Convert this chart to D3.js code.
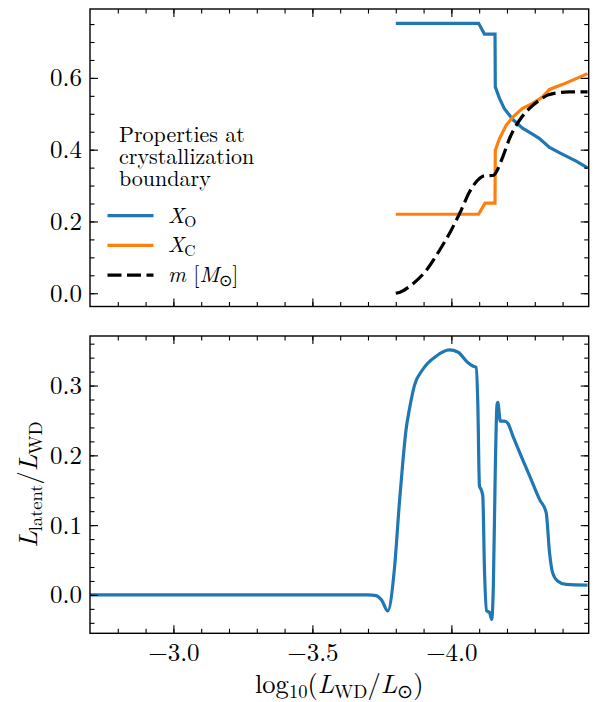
<!DOCTYPE html>
<html>
<head>
<meta charset="utf-8">
<script src="https://cdn.jsdelivr.net/npm/d3@7"></script>
<style>
  body { margin: 0; background: #fff; }
  svg text { font-family: "Latin Modern Roman", "Liberation Serif", serif; fill: #000; }
</style>
</head>
<body>
<svg id="chart" width="596" height="702"></svg>
<script>
// log10(L_WD / L_sun) values and series
const xoLum = [-3.800, -4.098, -4.119, -4.157, -4.158, -4.172, -4.190, -4.221, -4.256, -4.299, -4.317, -4.353, -4.395, -4.449, -4.490];
const xoVal = [0.752, 0.752, 0.722, 0.722, 0.575, 0.545, 0.515, 0.484, 0.460, 0.440, 0.431, 0.406, 0.389, 0.368, 0.349];

const xcLum = [-3.800, -4.098, -4.121, -4.157, -4.158, -4.173, -4.197, -4.221, -4.256, -4.292, -4.328, -4.353, -4.401, -4.449, -4.490];
const xcVal = [0.220, 0.220, 0.251, 0.251, 0.398, 0.431, 0.468, 0.491, 0.515, 0.529, 0.547, 0.568, 0.582, 0.598, 0.612];

const mLum = [-3.800, -3.815, -3.861, -3.909, -3.957, -3.999, -4.035, -4.065, -4.095, -4.119, -4.149, -4.185, -4.209, -4.245, -4.281, -4.317, -4.346, -4.377, -4.424, -4.490];
const mVal = [0.000, 0.003, 0.026, 0.063, 0.119, 0.175, 0.231, 0.282, 0.315, 0.327, 0.328, 0.380, 0.431, 0.482, 0.515, 0.538, 0.552, 0.558, 0.561, 0.561];

const latLum = [-2.70, -3.00, -3.50, -3.700, -3.729, -3.750, -3.771, -3.795, -3.813, -3.825, -3.837, -3.849, -3.867, -3.897, -3.945, -3.993, -4.023, -4.059, -4.077, -4.089, -4.095, -4.101, -4.107, -4.113, -4.119, -4.127, -4.137, -4.145, -4.151, -4.158, -4.164, -4.167, -4.176, -4.191, -4.203, -4.221, -4.251, -4.281, -4.317, -4.341, -4.353, -4.364, -4.382, -4.413, -4.490];
const latVal = [0.000, 0.000, 0.000, 0.000, -0.001, -0.008, -0.023, 0.037, 0.132, 0.189, 0.237, 0.266, 0.300, 0.323, 0.342, 0.351, 0.348, 0.333, 0.328, 0.326, 0.276, 0.156, 0.151, 0.142, 0.037, -0.023, -0.025, -0.035, 0.013, 0.180, 0.272, 0.276, 0.249, 0.249, 0.246, 0.228, 0.199, 0.171, 0.137, 0.118, 0.061, 0.032, 0.020, 0.015, 0.014];

const xMajor = [-3.0, -3.5, -4.0];
const topMajor = [0.0, 0.2, 0.4, 0.6];
const botMajor = [0.0, 0.1, 0.2, 0.3];

const legendTitle = ["Properties at", "crystallization", "boundary"];

const svg = d3.select("#chart");
const left = 90, right = 588.7;
const topPanel = { y0: 9, y1: 306.5 };
const botPanel = { y0: 336, y1: 633.3 };
const serif = "'Latin Modern Roman', 'Liberation Serif', serif";
const lw = 3.2;
const dash = "14,5.5";

const x = d3.scaleLinear().domain([-2.7, -4.494]).range([left, right]);
const yTop = d3.scaleLinear().domain([-0.037, 0.792]).range([topPanel.y1, topPanel.y0]);
const yBot = d3.scaleLinear().domain([-0.055, 0.371]).range([botPanel.y1, botPanel.y0]);

const fmtX = d => "\u2212" + d3.format(".1f")(-d);
const fmtY = d3.format(".1f");

function range(a, b, step) {
  const out = [];
  for (let i = 0; a + i * step <= b + 1e-9; i++) out.push(+(a + i * step).toFixed(4));
  return out;
}
const xMinor = range(-4.4, -2.8, 0.1);
const topMinor = range(0, 0.79, 0.05);
const botMinor = range(-0.04, 0.37, 0.02);

function drawAxes(p, y, yMajor, yMinor, showXLabels) {
  const g = svg.append("g");
  const h = p.y1 - p.y0, w = right - left;
  // bottom
  g.append("g").attr("transform", `translate(0,${p.y1})`)
    .call(d3.axisBottom(x).tickValues(xMinor).tickSize(-4.5).tickFormat(""));
  g.append("g").attr("transform", `translate(0,${p.y1})`)
    .call(d3.axisBottom(x).tickValues(xMajor).tickSize(-8).tickPadding(10)
      .tickFormat(showXLabels ? fmtX : ""));
  // top
  g.append("g").attr("transform", `translate(0,${p.y0})`)
    .call(d3.axisTop(x).tickValues(xMinor).tickSize(-4.5).tickFormat(""));
  g.append("g").attr("transform", `translate(0,${p.y0})`)
    .call(d3.axisTop(x).tickValues(xMajor).tickSize(-8).tickFormat(""));
  // left
  g.append("g").attr("transform", `translate(${left},0)`)
    .call(d3.axisLeft(y).tickValues(yMinor).tickSize(-4.5).tickFormat(""));
  g.append("g").attr("transform", `translate(${left},0)`)
    .call(d3.axisLeft(y).tickValues(yMajor).tickSize(-8).tickPadding(8).tickFormat(fmtY));
  // right
  g.append("g").attr("transform", `translate(${right},0)`)
    .call(d3.axisRight(y).tickValues(yMinor).tickSize(-4.5).tickFormat(""));
  g.append("g").attr("transform", `translate(${right},0)`)
    .call(d3.axisRight(y).tickValues(yMajor).tickSize(-8).tickFormat(""));

  g.selectAll(".domain").remove();
  g.selectAll("g").attr("font-family", null);
  g.selectAll(".tick line").attr("stroke", "#000").attr("stroke-width", 1.1);
  g.selectAll(".tick text").attr("font-size", 25).style("font-family", serif);

  g.append("rect").attr("x", left).attr("y", p.y0).attr("width", w).attr("height", h)
    .attr("fill", "none").attr("stroke", "#000").attr("stroke-width", 1.4);
}

// clip regions for the two panels
svg.append("clipPath").attr("id", "clipTop").append("rect")
  .attr("x", left).attr("y", topPanel.y0).attr("width", right - left).attr("height", topPanel.y1 - topPanel.y0);
svg.append("clipPath").attr("id", "clipBot").append("rect")
  .attr("x", left).attr("y", botPanel.y0).attr("width", right - left).attr("height", botPanel.y1 - botPanel.y0);

const lineTop = d3.line().x(d => x(d[0])).y(d => yTop(d[1]));
const lineTopSmooth = d3.line().x(d => x(d[0])).y(d => yTop(d[1])).curve(d3.curveMonotoneX);
const lineBot = d3.line().x(d => x(d[0])).y(d => yBot(d[1])).curve(d3.curveMonotoneX);

const gTop = svg.append("g").attr("clip-path", "url(#clipTop)");
gTop.append("path").attr("d", lineTop(d3.zip(xoLum, xoVal)))
  .attr("fill", "none").attr("stroke", "#1f77b4").attr("stroke-width", lw);
gTop.append("path").attr("d", lineTop(d3.zip(xcLum, xcVal)))
  .attr("fill", "none").attr("stroke", "#ff7f0e").attr("stroke-width", lw);
gTop.append("path").attr("d", lineTopSmooth(d3.zip(mLum, mVal)))
  .attr("fill", "none").attr("stroke", "#000").attr("stroke-width", lw)
  .attr("stroke-dasharray", dash);

const gBot = svg.append("g").attr("clip-path", "url(#clipBot)");
gBot.append("path").attr("d", lineBot(d3.zip(latLum, latVal)))
  .attr("fill", "none").attr("stroke", "#1f77b4").attr("stroke-width", lw)
  .attr("stroke-linejoin", "round");

drawAxes(topPanel, yTop, topMajor, topMinor, false);
drawAxes(botPanel, yBot, botMajor, botMinor, true);

// legend
const leg = svg.append("g").attr("font-size", 22);
legendTitle.forEach((t, i) => {
  leg.append("text").attr("x", 119).attr("y", 142 + i * 22).text(t);
});
const entries = [
  { color: "#1f77b4", dash: null, sym: "X", sub: "O" },
  { color: "#ff7f0e", dash: null, sym: "X", sub: "C" },
  { color: "#000", dash: dash, sym: "m", sub: null }
];
entries.forEach((e, i) => {
  const yy = 215.7 + i * 29.7;
  leg.append("line").attr("x1", 107.5).attr("x2", 153.5).attr("y1", yy).attr("y2", yy)
    .attr("stroke", e.color).attr("stroke-width", lw)
    .attr("stroke-dasharray", e.dash);
  const t = leg.append("text").attr("x", 168).attr("y", yy + 7);
  if (e.sub) {
    t.append("tspan").attr("font-style", "italic").text(e.sym);
    t.append("tspan").attr("font-size", 15.5).attr("dy", 4).text(e.sub);
  } else {
    t.append("tspan").attr("font-style", "italic").text("m");
    t.append("tspan").text(" [");
    t.append("tspan").attr("font-style", "italic").text("M");
    t.append("tspan").attr("font-size", 15.5).attr("dy", 4).text("\u2299");
    t.append("tspan").attr("dy", -4).text("]");
  }
});

// axis labels
const xl = svg.append("text").attr("x", (left + right) / 2).attr("y", 693)
  .attr("text-anchor", "middle").attr("font-size", 26.5);
xl.append("tspan").text("log");
xl.append("tspan").attr("font-size", 18.5).attr("dy", 5).text("10");
xl.append("tspan").attr("dy", -5).text("(");
xl.append("tspan").attr("font-style", "italic").text("L");
xl.append("tspan").attr("font-size", 18.5).attr("dy", 5).text("WD");
xl.append("tspan").attr("dy", -5).text("/");
xl.append("tspan").attr("font-style", "italic").text("L");
xl.append("tspan").attr("font-size", 18.5).attr("dy", 5).text("\u2299");
xl.append("tspan").attr("dy", -5).text(")");

const yl = svg.append("text")
  .attr("transform", `translate(37,${(botPanel.y0 + botPanel.y1) / 2}) rotate(-90)`)
  .attr("text-anchor", "middle").attr("font-size", 26.5);
yl.append("tspan").attr("font-style", "italic").text("L");
yl.append("tspan").attr("font-size", 18.5).attr("dy", 5).text("latent");
yl.append("tspan").attr("dy", -5).text("/");
yl.append("tspan").attr("font-style", "italic").text("L");
yl.append("tspan").attr("font-size", 18.5).attr("dy", 5).text("WD");
</script>
</body>
</html>
